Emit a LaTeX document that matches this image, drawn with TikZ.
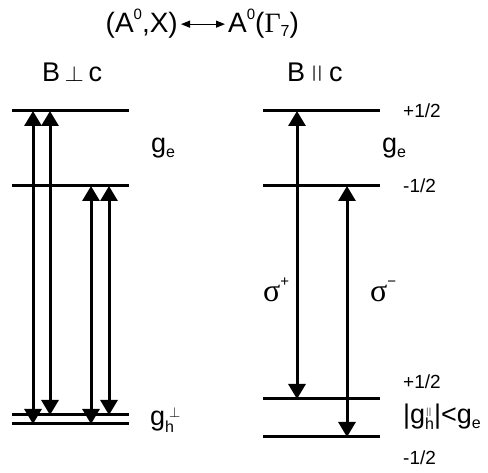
\documentclass[tikz,border=0pt]{standalone}
\usepackage{fontspec}
\usepackage{graphicx}
\setmainfont{Liberation Sans}
\newfontfamily\grk{Liberation Serif}
\usetikzlibrary{arrows.meta,calc}

\newcommand\hi[2]{\raisebox{#1}{\rmfamily\fontsize{15}{15}\selectfont #2}}
\newcommand\lo[2]{\raisebox{-#1}{\rmfamily\fontsize{16}{16}\selectfont #2}}

\begin{document}
\begin{tikzpicture}[x=1pt,y=-1pt,
  level/.style={line width=3pt},
  trans/.style={line width=3pt,{Triangle[length=15pt,width=17pt]}-{Triangle[length=15pt,width=17pt]}},
  pair/.style={line width=1.2pt,{Triangle[length=9pt,width=7pt]}-{Triangle[length=9pt,width=7pt]}},
  big/.style={font=\fontsize{27}{30}\selectfont,inner sep=0pt},
  head/.style={font=\fontsize{28}{30}\selectfont,inner ysep=0pt,inner xsep=3pt},
  spin/.style={font=\fontsize{19}{22}\selectfont,inner sep=0pt,anchor=west},
  pol/.style={font=\fontsize{32}{34}\selectfont\grk,inner sep=0pt,anchor=base west}]
\useasboundingbox (0,0) rectangle (488,473);

% title
\node[head,anchor=base east] (exc) at (181,33) {(A\hi{13pt}{0},X)};
\node[head,anchor=base west] (imp) at (225,33) {A\hi{13pt}{0}({\grk Γ}\lo{4pt}{7})};
\draw[pair] (exc) -- (imp);

\node[big,anchor=base west] (bperp) at (42,82) {B\,\scalebox{1}[0.88]{$\perp$}\,c};
\node[big,anchor=base west] (bpar) at (287,82) {B\,\raisebox{4pt}{\scalebox{1.2}[0.62]{$\parallel$}}\,c};

% levels
\coordinate (el1) at (12,111);
\coordinate (el2) at (12,186);
\coordinate (hl1) at (12,415);
\coordinate (hl2) at (12,424);
\coordinate (er1) at (263,111);
\coordinate (er2) at (263,186);
\coordinate (hr1) at (263,399);
\coordinate (hr2) at (263,437);
\foreach \l in {el1,el2,hl1,hl2,er1,er2,hr1,hr2}
  \draw[level] (\l) -- ++(117,0);

% transitions
\coordinate (a1) at (33,0);
\coordinate (a2) at (50,0);
\coordinate (a3) at (91,0);
\coordinate (a4) at (109,0);
\coordinate (a5) at (297,0);
\coordinate (a6) at (347,0);
\draw[trans] (a1 |- hl2) -- (a1 |- el1);
\draw[trans] (a2 |- hl1) -- (a2 |- el1);
\draw[trans] (a3 |- hl2) -- (a3 |- el2);
\draw[trans] (a4 |- hl1) -- (a4 |- el2);
\draw[trans] (a5 |- hr1) -- (a5 |- er1);
\draw[trans] (a6 |- hr2) -- (a6 |- er2);

% g factors
\node[big,anchor=base west] (gel) at (151,153) {g\lo{5pt}{e}};
\node[big,anchor=base west] (ghl) at (150,425) {g\rlap{\lo{8pt}{h}}\hspace{4pt}\hi{8pt}{$\perp$}};
\node[big,anchor=base west] (ger) at (382,153) {g\lo{5pt}{e}};
\node[big,anchor=base west] (ghr) at (403,424) {|g\rlap{\hi{9pt}{\scalebox{1}[0.6]{$\parallel$}}}\lo{6pt}{h}|<g\lo{5pt}{e}};

% spins
\node[spin] (s1) at (403,111) {+1/2};
\node[spin] (s2) at (403,186) {-1/2};
\node[spin] (s3) at (403,382) {+1/2};
\node[spin] (s4) at (403,458) {-1/2};

\node[pol] (sp) at (263,302) {σ\hi{15pt}{+}};
\node[pol] (sm) at (370,302) {σ\hi{15pt}{\textminus}};
\end{tikzpicture}
\end{document}
